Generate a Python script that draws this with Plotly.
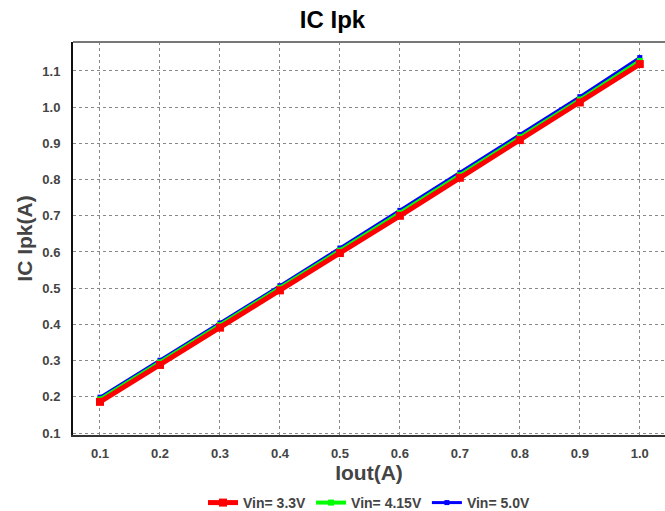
import plotly.graph_objects as go

iout = [0.1, 0.2, 0.3, 0.4, 0.5, 0.6, 0.7, 0.8, 0.9, 1.0]
vin_33 = [0.186, 0.288, 0.391, 0.494, 0.597, 0.700, 0.805, 0.909, 1.013, 1.119]
vin_415 = [0.193, 0.295, 0.398, 0.501, 0.604, 0.708, 0.812, 0.917, 1.021, 1.128]
vin_50 = [0.199, 0.301, 0.404, 0.507, 0.611, 0.715, 0.819, 0.924, 1.029, 1.137]
names = ["Vin= 3.3V", "Vin= 4.15V", "Vin= 5.0V"]
colors = ["#ff0000", "#00ff00", "#0000ff"]
x_ticks = [0.1, 0.2, 0.3, 0.4, 0.5, 0.6, 0.7, 0.8, 0.9, 1.0]
y_ticks = [0.1, 0.2, 0.3, 0.4, 0.5, 0.6, 0.7, 0.8, 0.9, 1.0, 1.1]

fig = go.Figure()
series = [(vin_50, 2, 3, 5), (vin_415, 1, 4, 6), (vin_33, 0, 5, 8)]
for vals, i, lw, ms in series:
    fig.add_trace(go.Scatter(
        x=iout, y=vals, name=f"<b>{names[i]}</b>", mode="lines+markers",
        line=dict(color=colors[i], width=lw),
        marker=dict(symbol="square", size=ms, color=colors[i]),
    ))

font = "Liberation Sans, Arial, sans-serif"
fig.update_layout(
    width=665, height=511,
    margin=dict(l=73, r=0, t=42, b=76, autoexpand=False),
    paper_bgcolor="white", plot_bgcolor="white",
    title=dict(text="<b>IC Ipk</b>", x=0.5, xanchor="center", y=0.962, yanchor="middle",
               font=dict(family=font, size=24, color="#000000")),
    showlegend=True,
    legend=dict(orientation="h", x=0.5, xanchor="center", y=-0.173, yanchor="middle",
                traceorder="reversed", font=dict(family=font, size=14, color="#444444"),
                itemwidth=30, tracegroupgap=0),
    font=dict(family=font),
)
fig.update_xaxes(
    range=[0.055, 1.042], tickvals=x_ticks, ticktext=[f"<b>{v:.1f}</b>" for v in x_ticks],
    tickfont=dict(size=13, color="#444444"),
    title=dict(text="<b>Iout(A)</b>", font=dict(size=21, color="#444444"), standoff=0),
    showline=True, linecolor="#333333", linewidth=2, mirror=False,
    showgrid=True, gridcolor="#888888", griddash="dot", gridwidth=1,
    zeroline=False, ticks="", ticklabelstandoff=5,
)
fig.update_yaxes(
    range=[0.0945, 1.18], tickvals=y_ticks, ticktext=[f"<b>{v:.1f}</b>" for v in y_ticks],
    tickfont=dict(size=13, color="#444444"),
    title=dict(text="<b>IC Ipk(A)</b>", font=dict(size=21, color="#444444"), standoff=4),
    showline=True, linecolor="#111111", linewidth=2,
    showgrid=True, gridcolor="#888888", griddash="dot", gridwidth=1,
    zeroline=False, ticks="", ticklabelstandoff=8,
)
fig.add_shape(type="line", xref="paper", yref="paper", x0=0, x1=1, y0=1, y1=1,
              line=dict(color="#777777", width=2))
fig.write_html("out.html", config={"displayModeBar": False},
               post_script="document.body.style.margin='0';document.body.style.overflow='hidden';")
